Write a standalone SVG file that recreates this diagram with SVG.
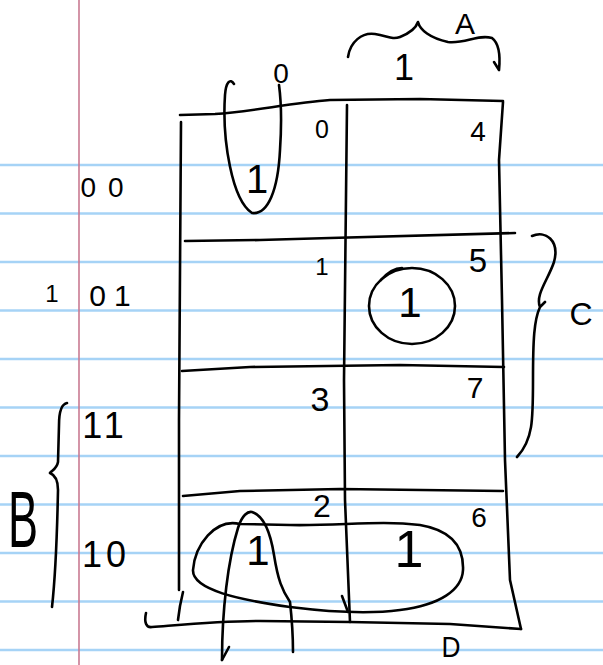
<svg xmlns="http://www.w3.org/2000/svg" width="603" height="665" viewBox="0 0 603 665">
<style>
.rule{stroke:#a6d3f6;stroke-width:2.5}
.margin{stroke:#c97a92;stroke-width:1.6}
.ink{fill:none;stroke:#000;stroke-width:2.6;stroke-linecap:round;stroke-linejoin:round}
.t{font-family:"Liberation Sans",Arial,sans-serif;fill:#000;text-anchor:middle}
</style>
<rect width="603" height="665" fill="#fff"/>
<g id="paper">
<line class="rule" x1="0" y1="165" x2="603" y2="165"/>
<line class="rule" x1="0" y1="213.5" x2="603" y2="213.5"/>
<line class="rule" x1="0" y1="262" x2="603" y2="262"/>
<line class="rule" x1="0" y1="310.5" x2="603" y2="310.5"/>
<line class="rule" x1="0" y1="359" x2="603" y2="359"/>
<line class="rule" x1="0" y1="407.5" x2="603" y2="407.5"/>
<line class="rule" x1="0" y1="456" x2="603" y2="456"/>
<line class="rule" x1="0" y1="504.5" x2="603" y2="504.5"/>
<line class="rule" x1="0" y1="553" x2="603" y2="553"/>
<line class="rule" x1="0" y1="601.5" x2="603" y2="601.5"/>
<line class="rule" x1="0" y1="650" x2="603" y2="650"/>
<line class="margin" x1="79" y1="0" x2="79" y2="665"/>
</g>
<g id="grid">
<path class="ink" d="M180 115 L215 114 C250 112 290 103 330 100 L420 99 L503 101"/>
<path class="ink" d="M181 122 L179 420 L179 590"/>
<path class="ink" d="M183 592 C181 600 179 610 178 620"/>
<path class="ink" d="M347 105 L344 380 L345 500 L350 622"/>
<path class="ink" d="M342 596 L348 612"/>
<path class="ink" d="M503 102 L499 160 L502 300 L505 460 L510 580 L521 629"/>
<path class="ink" d="M185 241 L260 240 L330 238 L515 233"/>
<path class="ink" d="M182 371 L250 367 L400 365 L504 367"/>
<path class="ink" d="M183 496 L240 491 L340 489 L503 491"/>
<path class="ink" d="M146 613 C144 622 146 628 152 627 C190 624 220 621 260 621 L350 622 L450 624 L521 629"/>
</g>
<g id="braces">
<path class="ink" d="M348 57 C350 42 362 32 375 34 C388 36 392 40 400 37 C410 33 416 28 418 22 C420 30 430 38 448 42 C465 44 478 34 492 38 C500 44 500 60 499 70 L494 62"/>
<path class="ink" d="M532 236 C545 230 560 240 554 262 C548 280 535 295 540 307 L545 302 M540 307 C534 320 533 340 533 380 C533 420 533 440 517 457"/>
<path class="ink" d="M67 403 C62 404 59 410 59 425 L58 462 C57 468 53 470 50 473 C55 475 58 480 58 490 C57 540 55 580 52 607"/>
</g>
<g id="groupings">
<path class="ink" d="M234 84 C230 78 226 82 225 95 C222 140 232 200 252 213 C268 215 278 190 280 150 C282 120 281 100 279 85"/>
<ellipse class="ink" cx="412" cy="306" rx="43" ry="38"/>
<path class="ink" d="M381 280 C388 272 394 268 402 268"/>
<path class="ink" d="M240 524 C215 518 195 545 193 570 C192 590 240 600 290 607 C330 612 370 614 400 610 C440 605 462 590 463 570 C464 545 450 530 420 525 C380 520 340 526 290 525 Z"/>
<path class="ink" d="M222 660 C222 610 228 560 238 528 C242 515 248 511 252 512 C262 515 270 530 274 555 C278 580 282 590 290 602 C292 620 293 640 293 652"/>
<path class="ink" d="M222 660 L229 647"/>
</g>
<g id="labels">
<text class="t" x="465" y="34" font-size="30">A</text>
<text class="t" x="404" y="80" font-size="36">1</text>
<text class="t" x="281" y="83" font-size="28">0</text>
<text class="t" x="108" y="197" font-size="28" letter-spacing="12">00</text>
<text class="t" x="52" y="302" font-size="24">1</text>
<text class="t" x="114" y="306" font-size="30" letter-spacing="8">01</text>
<text class="t" x="105" y="438" font-size="36" letter-spacing="4">11</text>
<text class="t" x="106" y="567" font-size="36" letter-spacing="4">10</text>
<text class="t" x="23" y="547" font-size="80" textLength="30" lengthAdjust="spacingAndGlyphs">B</text>
<text class="t" x="581" y="325" font-size="32">C</text>
<text class="t" x="451" y="657" font-size="30" textLength="19" lengthAdjust="spacingAndGlyphs">D</text>
</g>
<g id="cells">
<text class="t" x="322" y="138" font-size="25">0</text>
<text class="t" x="478" y="141" font-size="28">4</text>
<text class="t" x="257" y="193" font-size="40">1</text>
<text class="t" x="322" y="275" font-size="24">1</text>
<text class="t" x="478" y="272" font-size="33">5</text>
<text class="t" x="410" y="317" font-size="42">1</text>
<text class="t" x="320" y="411" font-size="34">3</text>
<text class="t" x="475" y="398" font-size="30">7</text>
<text class="t" x="322" y="517" font-size="32">2</text>
<text class="t" x="479" y="527" font-size="28">6</text>
<text class="t" x="258" y="565" font-size="42">1</text>
<text class="t" x="409" y="567" font-size="52">1</text>
</g>
</svg>
